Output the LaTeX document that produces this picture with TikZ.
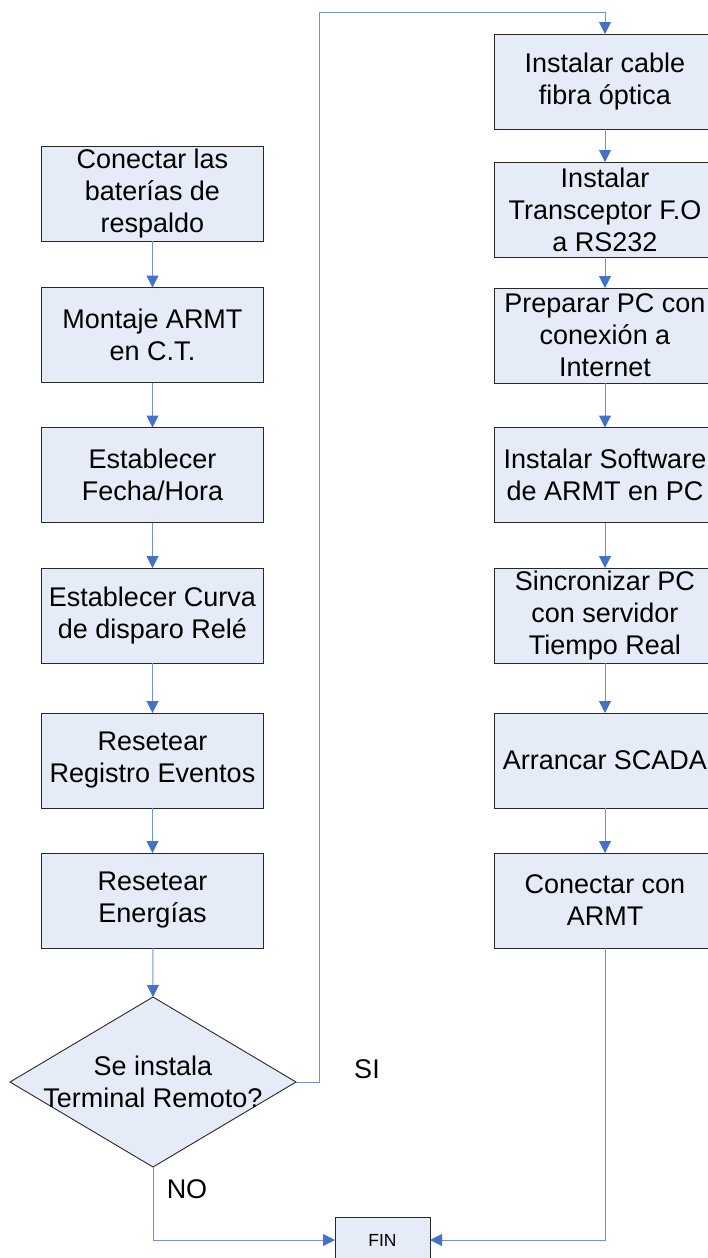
\documentclass[tikz,border=0pt]{standalone}
\usepackage{fontspec}
\setmainfont{Liberation Sans}
\usetikzlibrary{arrows.meta,shapes.geometric}
\definecolor{boxfill}{RGB}{230,236,247}
\definecolor{boxline}{RGB}{40,40,40}
\definecolor{conn}{RGB}{110,150,212}
\definecolor{tipc}{RGB}{68,114,196}
\tikzset{
  stepbox/.style={draw=boxline, fill=boxfill, line width=0.9pt, minimum width=222pt, minimum height=95pt,
    inner sep=0pt, outer sep=0pt, align=center, font=\fontsize{27}{32}\selectfont},
  finbox/.style={draw=boxline, fill=boxfill, line width=0.9pt, minimum width=95pt, minimum height=46pt,
    inner sep=0pt, outer sep=0pt, font=\fontsize{17.5}{20}\selectfont},
  decbox/.style={draw=boxline, fill=boxfill, line width=0.9pt, diamond, minimum width=286pt, minimum height=170pt,
    inner sep=0pt, outer sep=0pt},
  conn/.style={draw=conn, line width=1pt, -{Triangle[length=12pt,width=12pt,color=tipc]}},
  lbl/.style={font=\fontsize{27}{32}\selectfont, inner sep=0pt}
}
\begin{document}
\begin{tikzpicture}[x=1pt,y=-1pt]
\useasboundingbox (0,0) rectangle (707,1258);
% left column
\node[stepbox] (l1) at (152.5,193.5) {Conectar las\\baterías de\\respaldo};
\node[stepbox] (l2) at (152.5,335) {Montaje ARMT\\en C.T.};
\node[stepbox] (l3) at (152.5,475) {Establecer\\Fecha/Hora};
\node[stepbox] (l4) at (152.5,615.5) {Establecer Curva\\de disparo Relé};
\node[stepbox] (l5) at (152.5,760.5) {Resetear\\Registro Eventos};
\node[stepbox] (l6) at (152.5,900.5) {Resetear\\Energías};
\node[decbox] (d) at (153,1082) {};
\node[lbl, align=center] (dt) at (153,1082) {Se instala\\Terminal Remoto?};
% right column
\node[stepbox] (r1) at (605,81.5) {Instalar cable\\fibra óptica};
\node[stepbox] (r2) at (605,209.5) {Instalar\\Transceptor F.O\\a RS232};
\node[stepbox] (r3) at (605,335.5) {Preparar PC con\\conexión a\\Internet};
\node[stepbox] (r4) at (605,475) {Instalar Software\\de ARMT en PC};
\node[stepbox] (r5) at (605,615.5) {Sincronizar PC\\con servidor\\Tiempo Real};
\node[stepbox] (r6) at (605,760.5) {Arrancar SCADA};
\node[stepbox] (r7) at (605,900.5) {Conectar con\\ARMT};
% end
\node[finbox] (fin) at (382.5,1240) {FIN};
% labels
\node[lbl] (si) at (367,1069) {SI};
\node[lbl] (no) at (187,1189) {NO};
% connectors
\draw[conn] (l1) -- (l2);
\draw[conn] (l2) -- (l3);
\draw[conn] (l3) -- (l4);
\draw[conn] (l4) -- (l5);
\draw[conn] (l5) -- (l6);
\draw[conn] (l6) -- (d.north);
\draw[conn] (r1) -- (r2);
\draw[conn] (r2) -- (r3);
\draw[conn] (r3) -- (r4);
\draw[conn] (r4) -- (r5);
\draw[conn] (r5) -- (r6);
\draw[conn] (r6) -- (r7);
\coordinate (up) at (319,12);
\draw[conn] (d.east) -| (up) -| (r1.north);
\draw[conn] (d.south) |- (fin.west);
\draw[conn] (r7.south) |- (fin.east);
\end{tikzpicture}
\end{document}
